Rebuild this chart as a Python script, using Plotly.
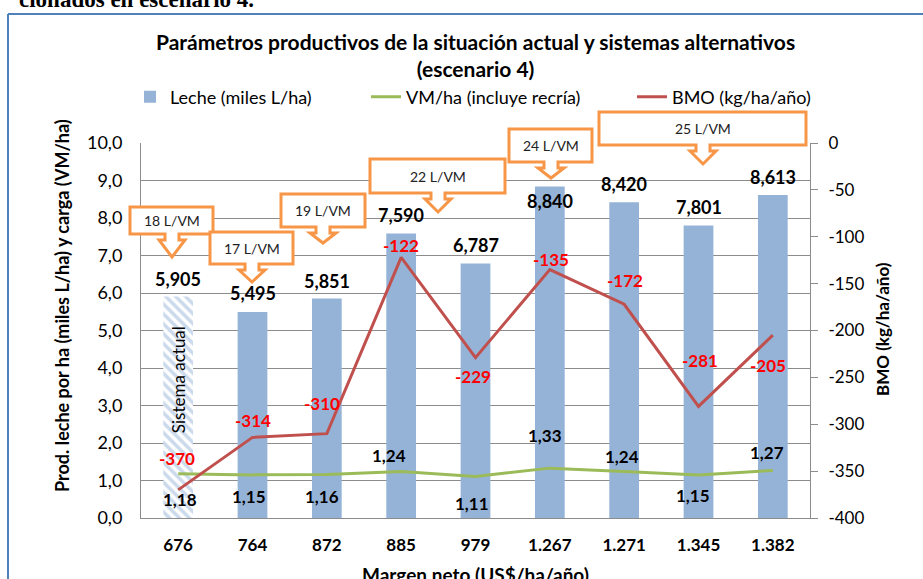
import plotly.graph_objects as go

# ---------------- data ----------------
CATEGORIAS = ["676", "764", "872", "885", "979", "1.267", "1.271", "1.345", "1.382"]
LECHE = [5.905, 5.495, 5.851, 7.590, 6.787, 8.840, 8.420, 7.801, 8.613]
VM = [1.18, 1.15, 1.16, 1.24, 1.11, 1.33, 1.24, 1.15, 1.27]
BMO = [-370, -314, -310, -122, -229, -135, -172, -281, -205]
CALLOUT_TEXT = ["18 L/VM", "17 L/VM", "19 L/VM", "22 L/VM", "24 L/VM", "25 L/VM"]
Y_TICKVALS = list(range(0, 11))
Y_TICKTEXT = [f"{v},0" for v in Y_TICKVALS]
Y2_TICKVALS = list(range(-400, 1, 50))
Y2_TICKTEXT = [str(v) for v in Y2_TICKVALS]

POS = list(range(len(CATEGORIAS)))  # category positions on the x axis

# ---------------- layout helpers (pixel geometry) ----------------
FIG_W, FIG_H = 923, 579
L, R, T, B = 141, 810, 143, 518
W, H = R - L, B - T


def px(x):
    return (x - L) / W


def py(y):
    return (B - y) / H


FONT = "Lato, 'Open Sans', sans-serif"
BLUE = "#95B3D7"
GREEN = "#9BBB59"
RED = "#C0504D"
ORANGE = "#F79646"
GRID = "#8C8C8C"

# label offsets in pixels
LECHE_DY = [18, 19, 18, 18, 18, -14, 18, 18, 18]
VM_DY = [-26, -22, -22, 16, -27, 33, 15, -21, 18]
VM_DX = [2, -4, -5, -12, -4, -5, -2, -6, -6]
BMO_DY = [31, 17, 30, 12, -19, 10, 24, 46, -30]
BMO_DX = [-1, 0, -5, 0, -3, 1, 1, 1, -5]

# callout geometry (x0, y0, x1, y1, tip_x, tip_y) in pixels
CALLOUT_BOX = [
    (130, 207, 213, 234, 172, 257),
    (210, 232, 293, 264, 252, 282),
    (281, 194, 365, 227, 323, 243),
    (370, 159, 505, 193, 438, 212),
    (509, 129, 592, 162, 551, 178),
    (599, 112, 806, 145, 703, 164),
]

fig = go.Figure()

# Sistema actual (hatched)
fig.add_trace(go.Bar(
    x=POS[:1], y=LECHE[:1], name="Leche (miles L/ha)", showlegend=False,
    width=0.4,
    marker=dict(color="white", line=dict(width=0),
                pattern=dict(shape="\\", fgcolor=BLUE, bgcolor="white", size=7, solidity=0.5)),
    hoverinfo="skip",
))
fig.add_trace(go.Bar(
    x=POS[1:], y=LECHE[1:], name="Leche (miles L/ha)", width=0.4,
    marker=dict(color=BLUE, line=dict(width=0)), legend="legend",
))
fig.add_trace(go.Scatter(
    x=POS, y=VM, name="VM/ha (incluye recría)", mode="lines",
    line=dict(color=GREEN, width=3), legend="legend2",
))
fig.add_trace(go.Scatter(
    x=POS, y=BMO, name="BMO (kg/ha/año)", mode="lines", yaxis="y2",
    line=dict(color=RED, width=3), legend="legend3",
))


def A(**kw):
    d = dict(showarrow=False, xanchor="center", yanchor="middle")
    d.update(kw)
    return d


ann = []
for c, v, dy in zip(POS, LECHE, LECHE_DY):
    ann.append(A(x=c, y=v, xref="x", yref="y", text=f"{v:.3f}".replace(".", ","), yshift=dy,
                 font=dict(family=FONT, size=18, color="black", weight="bold")))
for c, v, dy, dx in zip(POS, VM, VM_DY, VM_DX):
    ann.append(A(x=c, y=v, xref="x", yref="y", text=f"{v:.2f}".replace(".", ","), yshift=dy, xshift=dx,
                 font=dict(family=FONT, size=17, color="black", weight="bold")))
for c, v, dy, dx in zip(POS, BMO, BMO_DY, BMO_DX):
    ann.append(A(x=c, y=v, xref="x", yref="y2", text=str(v), yshift=dy, xshift=dx,
                 font=dict(family=FONT, size=17, color="#FF0000", weight="bold")))

shapes = []
for (x0, y0, x1, y1, tx, ty), txt in zip(CALLOUT_BOX, CALLOUT_TEXT):
    sw, hw, sl = 7, 13, 6
    pts = [(x0, y0), (x1, y0), (x1, y1), (tx + sw, y1), (tx + sw, y1 + sl), (tx + hw, y1 + sl),
           (tx, ty), (tx - hw, y1 + sl), (tx - sw, y1 + sl), (tx - sw, y1), (x0, y1)]
    path = "M " + " L ".join(f"{px(a):.5f},{py(b):.5f}" for a, b in pts) + " Z"
    shapes.append(dict(type="path", path=path, xref="paper", yref="paper",
                       line=dict(color=ORANGE, width=3), fillcolor="white", layer="above"))
    ann.append(A(x=px(tx), y=py((y0 + y1) / 2), xref="paper", yref="paper", text=txt,
                 font=dict(family=FONT, size=14, color="#222222")))

# outer frame (blue border)
shapes.append(dict(type="line", xref="paper", yref="paper", x0=px(8), x1=px(8), y0=py(14), y1=py(600),
                   line=dict(color="#4F81BD", width=2)))
shapes.append(dict(type="line", xref="paper", yref="paper", x0=px(8), x1=px(940), y0=py(14), y1=py(14),
                   line=dict(color="#4F81BD", width=2)))

# title
ann.append(A(x=0.5, y=py(54.5), xref="paper", yref="paper",
             text="Parámetros productivos de la situación actual y sistemas alternativos<br>(escenario 4)",
             font=dict(family=FONT, size=21, color="black", weight="bold")))
# text cut at top
ann.append(A(x=px(256), y=py(-1), xref="paper", yref="paper", xanchor="right",
             text="cionados en escenario 4.",
             font=dict(family="Liberation Serif", size=23, color="black", weight="bold")))
# Sistema actual
ann.append(A(x=POS[0], y=py(380), xref="x", yref="paper", textangle=-90,
             text="Sistema actual", font=dict(family=FONT, size=17, color="black")))
# axis titles
ann.append(A(x=px(62), y=py(306), xref="paper", yref="paper", textangle=-90,
             text="Prod. leche por ha (miles L/ha) y carga (VM/ha)",
             font=dict(family=FONT, size=18, color="black", weight="bold")))
ann.append(A(x=px(882), y=py(329), xref="paper", yref="paper", textangle=-90,
             text="BMO (kg/ha/año)", font=dict(family=FONT, size=17, color="black", weight="bold")))
ann.append(A(x=px(475), y=py(574), xref="paper", yref="paper",
             text="Margen neto (US$/ha/año)", font=dict(family=FONT, size=19, color="black", weight="bold")))

leg_common = dict(orientation="h", yanchor="middle", xanchor="left", bgcolor="rgba(0,0,0,0)",
                  font=dict(family=FONT, size=18, color="black"))

fig.update_layout(
    width=FIG_W, height=FIG_H,
    margin=dict(l=L, r=FIG_W - R, t=T, b=FIG_H - B, pad=0, autoexpand=False),
    paper_bgcolor="white", plot_bgcolor="white",
    barmode="overlay", showlegend=True,
    legend=dict(x=px(130), y=py(97), **leg_common),
    legend2=dict(x=px(366), y=py(97), **leg_common),
    legend3=dict(x=px(632), y=py(97), **leg_common),
    xaxis=dict(range=[-0.5, len(CATEGORIAS) - 0.5], tickvals=POS, ticktext=CATEGORIAS,
               showline=True, linecolor=GRID, linewidth=1, ticks="", zeroline=False,
               tickfont=dict(family=FONT, size=17, color="black", weight="bold"),
               ticklabelstandoff=12, showgrid=False),
    yaxis=dict(range=[0, 10], tickvals=Y_TICKVALS, ticktext=Y_TICKTEXT, showline=True, linecolor=GRID,
               showgrid=True, gridcolor=GRID, gridwidth=1, zeroline=False, ticks="",
               ticklabelstandoff=14, tickfont=dict(family=FONT, size=18, color="black")),
    yaxis2=dict(range=[-400, 0], tickvals=Y2_TICKVALS, ticktext=Y2_TICKTEXT, overlaying="y", side="right",
                showline=True, linecolor=GRID, showgrid=False, zeroline=False, ticks="outside", ticklen=7,
                tickcolor=GRID, ticklabelstandoff=7, tickfont=dict(family=FONT, size=17, color="black")),
    annotations=ann, shapes=shapes,
)

fig.write_html("out.html", config={"displayModeBar": False},
               post_script="document.body.style.margin='0px';")
